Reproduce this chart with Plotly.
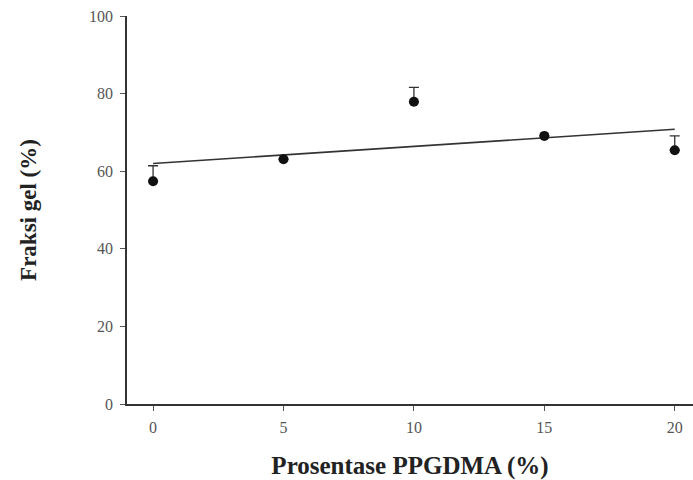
import plotly.graph_objects as go

x_vals = [0, 5, 10, 15, 20]
y_vals = [57.4, 63.1, 77.9, 69.1, 65.4]
err_plus = [4.0, 0.0, 3.7, 0.0, 3.7]
fit_x = [0, 20]
fit_y = [62.0, 70.8]
x_ticks = [0, 5, 10, 15, 20]
y_ticks = [0, 20, 40, 60, 80, 100]

font_family = "Liberation Serif, Times New Roman, serif"

fig = go.Figure()
fig.add_trace(go.Scatter(
    x=fit_x, y=fit_y, mode="lines",
    line=dict(color="#333333", width=1.6),
    hoverinfo="skip", showlegend=False))
fig.add_trace(go.Scatter(
    x=x_vals, y=y_vals, mode="markers",
    marker=dict(color="#111111", size=10),
    error_y=dict(type="data", symmetric=False, array=err_plus,
                 arrayminus=[0]*5, color="#333333", thickness=1.3, width=5),
    showlegend=False))

fig.update_layout(
    width=693, height=480,
    margin=dict(l=127, r=0, t=16, b=76),
    paper_bgcolor="white", plot_bgcolor="white",
    font=dict(family=font_family, color="#555555", size=16),
    xaxis=dict(
        range=[-1.0, 20.7], tickvals=x_ticks, showgrid=False, zeroline=False,
        showline=True, linecolor="#333333", linewidth=1.5,
        ticks="outside", ticklen=5, tickcolor="#555555", tickwidth=1,
        tickfont=dict(size=16, color="#555555", family=font_family),
        ticklabelstandoff=3,
        title=dict(text="<b>Prosentase PPGDMA (%)</b>",
                   font=dict(size=25, color="#222222", family=font_family),
                   standoff=22)),
    yaxis=dict(
        range=[0, 100], tickvals=y_ticks, showgrid=False, zeroline=False,
        showline=True, linecolor="#333333", linewidth=1.5,
        ticks="outside", ticklen=5, tickcolor="#555555", tickwidth=1,
        tickfont=dict(size=16, color="#555555", family=font_family),
        ticklabelstandoff=4,
        title=dict(text="<b>Fraksi gel (%)</b>",
                   font=dict(size=23, color="#222222", family=font_family),
                   standoff=46)),
)

fig.write_html("out.html")
